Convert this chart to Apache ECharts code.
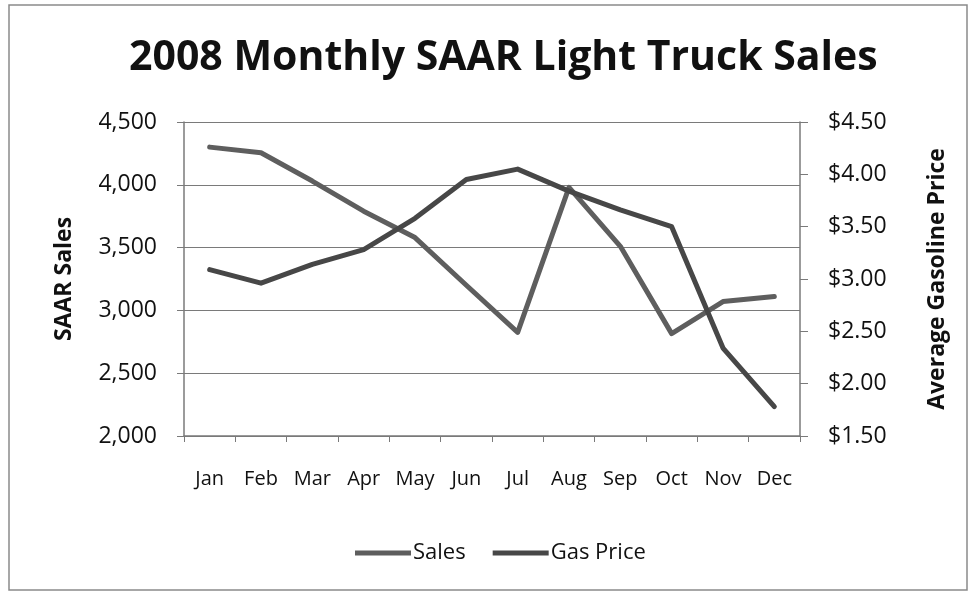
<!DOCTYPE html>
<html>
<head>
    <meta charset="utf-8">
    <title>2008 Monthly SAAR Light Truck Sales</title>
    <script src="https://cdn.jsdelivr.net/npm/echarts@6/dist/echarts.min.js"></script>
    <style>
        html, body { margin: 0; padding: 0; background: #fff; }
        #container { width: 972px; height: 592px; }
    </style>
</head>
<body>
<div id="container"></div>
<script>
    // values
    var months = ['Jan', 'Feb', 'Mar', 'Apr', 'May', 'Jun', 'Jul', 'Aug', 'Sep', 'Oct', 'Nov', 'Dec'];
    var sales = [4300, 4255, 4030, 3790, 3580, 3200, 2825, 3980, 3510, 2815, 3070, 3110];
    var gasPrice = [3.09, 2.96, 3.14, 3.28, 3.58, 3.95, 4.05, 3.84, 3.66, 3.50, 2.34, 1.78];

    var font = 'Open Sans';
    var ink = '#111';
    var axisGray = '#7a7a7a';

    var myChart = echarts.init(document.getElementById('container'));
    var option = {
        animation: false,
        textStyle: { fontFamily: font, color: ink },
        title: {
            text: '2008 Monthly SAAR Light Truck Sales',
            left: 124,
            top: 33,
            textStyle: { fontFamily: font, fontSize: 41, fontWeight: 'bold', color: ink }
        },
        graphic: [{
            type: 'rect',
            shape: { x: 9, y: 5, width: 958, height: 585 },
            style: { fill: 'none', stroke: '#8a8a8a', lineWidth: 1.5 },
            silent: true
        }],
        legend: {
            top: 537,
            left: 350,
            icon: 'rect',
            itemWidth: 56,
            itemHeight: 5,
            itemGap: 27,
            textStyle: { fontFamily: font, fontSize: 22, color: ink, padding: [0, 0, 0, -3] },
            data: ['Sales', 'Gas Price']
        },
        grid: { left: 184, right: 172, top: 122, bottom: 156 },
        xAxis: {
            type: 'category',
            data: months,
            boundaryGap: true,
            axisLine: { lineStyle: { color: axisGray, width: 1.5 } },
            axisTick: { show: true, length: 6, lineStyle: { color: axisGray } },
            axisLabel: { interval: 0, margin: 33, fontSize: 20, color: ink, fontFamily: font }
        },
        yAxis: [{
            type: 'value',
            min: 2000,
            max: 4500,
            interval: 500,
            name: 'SAAR Sales',
            nameLocation: 'middle',
            nameRotate: 90,
            nameGap: 108,
            nameTextStyle: { fontSize: 23, fontWeight: 'bold', color: ink, fontFamily: font },
            axisLine: { show: true, lineStyle: { color: axisGray, width: 1.5 } },
            axisTick: { show: true, length: 7, lineStyle: { color: axisGray } },
            axisLabel: {
                margin: 27, fontSize: 23, color: ink, fontFamily: font,
                formatter: function (v) { return v.toLocaleString('en-US'); }
            },
            splitLine: { show: true, lineStyle: { color: axisGray, width: 1.2 } }
        }, {
            type: 'value',
            min: 1.5,
            max: 4.5,
            interval: 0.5,
            position: 'right',
            name: 'Average Gasoline Price',
            nameLocation: 'middle',
            nameRotate: 90,
            nameGap: 126,
            nameTextStyle: { fontSize: 23, fontWeight: 'bold', color: ink, fontFamily: font },
            axisLine: { show: true, lineStyle: { color: axisGray, width: 1.5 } },
            axisTick: { show: true, length: 8, lineStyle: { color: axisGray } },
            axisLabel: {
                margin: 28, fontSize: 23, color: ink, fontFamily: font,
                formatter: function (v) { return '$' + v.toFixed(2); }
            },
            splitLine: { show: false }
        }],
        series: [{
            name: 'Sales',
            type: 'line',
            yAxisIndex: 0,
            data: sales,
            symbol: 'none',
            color: '#5e5e5e',
            lineStyle: { width: 5, color: '#5e5e5e', join: 'round', cap: 'round' }
        }, {
            name: 'Gas Price',
            type: 'line',
            yAxisIndex: 1,
            data: gasPrice,
            symbol: 'none',
            color: '#474747',
            lineStyle: { width: 5, color: '#474747', join: 'round', cap: 'round' }
        }]
    };
    myChart.setOption(option);
</script>
</body>
</html>
